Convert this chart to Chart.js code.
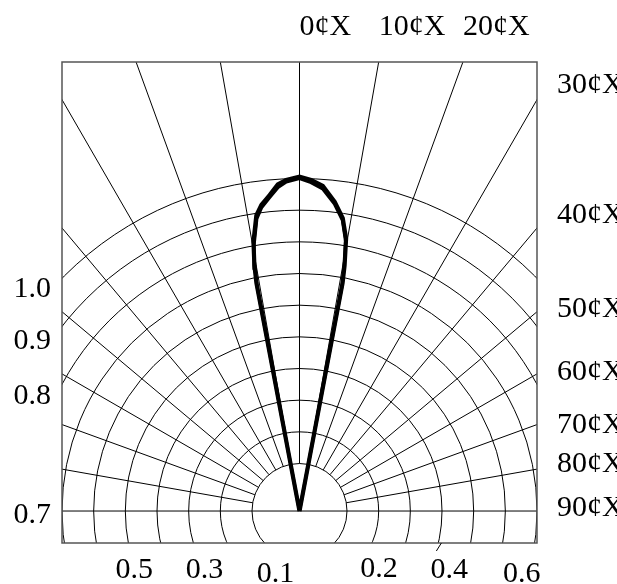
<!DOCTYPE html>
<html><head><meta charset="utf-8">
<script src="https://cdn.jsdelivr.net/npm/chart.js@4/dist/chart.umd.min.js"></script>
<style>html,body{margin:0;padding:0;background:#fff;}#wrap{width:617px;height:584px;position:relative;}</style>
</head><body><div id="wrap"><canvas id="c" width="617" height="584"></canvas></div>
<script>
// ---- grid values ----
const ringValues = [0.1, 0.2, 0.3, 0.4, 0.5, 0.6, 0.7, 0.8, 0.9, 1.0];
const ringRadius = [0.15, 0.25, 0.35, 0.45, 0.55, 0.65, 0.75, 0.85, 0.95, 1.05];
const spokeAngles = [-80, -70, -60, -50, -40, -30, -20, -10, 0, 10, 20, 30, 40, 50, 60, 70, 80];
const angleTickValues = [0, 10, 20, 30, 40, 50, 60, 70, 80, 90];
const angleTickLabels = ['0¢X', '10¢X', '20¢X', '30¢X', '40¢X', '50¢X', '60¢X', '70¢X', '80¢X', '90¢X'];
const leftRingLabels = ['1.0', '0.9', '0.8', '0.7'];
const bottomRingLabels = ['0.1', '0.2', '0.3', '0.4', '0.5', '0.6'];
// ---- lobe (angle in degrees, radius in ring units) ----
const lobeAngles  = [-11, -10.7, -10.4, -9.7, -8.3, -7.1, -5.4, -3.8, -2.3, 0, 2, 4.1, 6.5, 8.4, 9.7, 10.4, 10.7, 11];
const lobeRadiusA = [0, 0.733, 0.789, 0.863, 0.944, 0.974, 1.002, 1.034, 1.046, 1.056, 1.046, 1.029, 0.983, 0.935, 0.873, 0.789, 0.733, 0];
const lobeRadiusB = [0, 0.722, 0.780, 0.852, 0.933, 0.966, 0.995, 1.024, 1.040, 1.050, 1.038, 1.020, 0.976, 0.928, 0.864, 0.781, 0.724, 0];

function toXY(angles, radii) {
  return angles.map((a, i) => {
    const t = a * Math.PI / 180;
    return { x: radii[i] * Math.sin(t), y: radii[i] * Math.cos(t) };
  });
}

const FONT = '30px "Liberation Serif", "Times New Roman", serif';

const polarGrid = {
  id: 'polarGrid',
  beforeDatasetsDraw(chart) {
    const { ctx, chartArea: a, scales: { x, y } } = chart;
    const cx = x.getPixelForValue(0), cy = y.getPixelForValue(0);
    const k = x.getPixelForValue(1) - cx;
    ctx.save();
    ctx.beginPath();
    ctx.rect(a.left, a.top, a.right - a.left, a.bottom - a.top);
    ctx.clip();
    ctx.strokeStyle = '#000';
    ctx.lineWidth = 1;
    ringRadius.forEach(r => {
      ctx.beginPath();
      ctx.arc(cx, cy, r * k, 0, Math.PI * 2);
      ctx.stroke();
    });
    const r0 = ringRadius[0] * k, r1 = 4 * k;
    spokeAngles.forEach(d => {
      const t = d * Math.PI / 180;
      ctx.beginPath();
      ctx.moveTo(cx + r0 * Math.sin(t), cy - r0 * Math.cos(t));
      ctx.lineTo(cx + r1 * Math.sin(t), cy - r1 * Math.cos(t));
      ctx.stroke();
    });
    ctx.beginPath();
    ctx.moveTo(a.left, cy);
    ctx.lineTo(a.right, cy);
    ctx.stroke();
    ctx.restore();
  },
  afterDraw(chart) {
    const { ctx, chartArea: a, scales: { x, y } } = chart;
    const cx = x.getPixelForValue(0), cy = y.getPixelForValue(0);
    const k = x.getPixelForValue(1) - cx;
    ctx.save();
    // frame
    ctx.strokeStyle = '#555';
    ctx.lineWidth = 1.5;
    ctx.strokeRect(a.left, a.top, a.right - a.left, a.bottom - a.top);
    ctx.fillStyle = '#000';
    ctx.font = FONT;
    ctx.textBaseline = 'alphabetic';
    // angle labels
    const rightNudge = [-7, -5, 5, 6, 8, 3, 5];
    angleTickValues.forEach((d, i) => {
      const t = d * Math.PI / 180;
      ctx.textAlign = 'left';
      if (d < 30) {
        ctx.fillText(angleTickLabels[i], cx + (cy - a.top) * Math.tan(t), a.top - 27);
      } else {
        const yh = d === 90 ? cy : cy - (a.right - cx) / Math.tan(t);
        ctx.fillText(angleTickLabels[i], a.right + 20, yh + rightNudge[i - 3]);
      }
    });
    // left ring labels (rings 1.0 .. 0.7 at left edge)
    const leftNudge = [19, 23, 20, 12];
    ctx.textAlign = 'right';
    leftRingLabels.forEach((lab, i) => {
      const idx = ringValues.findIndex(v => v.toFixed(1) === lab);
      const R = ringRadius[idx] * k;
      const dx = cx - a.left;
      const yh = cy - Math.sqrt(Math.max(0, R * R - dx * dx));
      ctx.fillText(lab, a.left - 11, yh + leftNudge[i]);
    });
    // bottom ring labels
    const bx = [11, 7, 11, 11, 6, 19];
    const by = [39, 34, 35, 35, 35, 39];
    ctx.textAlign = 'center';
    bottomRingLabels.forEach((lab, i) => {
      const idx = ringValues.findIndex(v => v.toFixed(1) === lab);
      const R = ringRadius[idx] * k;
      const dy = a.bottom - cy;
      const dx = Math.sqrt(Math.max(0, R * R - dy * dy));
      const side = (i % 2 === 0) ? -1 : 1;
      const xc = cx + side * dx;
      ctx.fillText(lab, xc + bx[i], a.bottom + by[i]);
      if (lab === '0.4') {
        ctx.strokeStyle = '#000';
        ctx.lineWidth = 1;
        ctx.beginPath();
        ctx.moveTo(xc + 3, a.bottom);
        ctx.lineTo(xc - 2, a.bottom + 8);
        ctx.stroke();
      }
    });
    ctx.restore();
  }
};

new Chart(document.getElementById('c'), {
  type: 'scatter',
  data: {
    datasets: [
      { data: toXY(lobeAngles, lobeRadiusA), showLine: true, borderColor: '#000', borderWidth: 4.2, pointRadius: 0, tension: 0, fill: false },
      { data: toXY(lobeAngles, lobeRadiusB), showLine: true, borderColor: '#000', borderWidth: 3.2, pointRadius: 0, tension: 0, fill: false }
    ]
  },
  options: {
    responsive: false,
    animation: false,
    events: [],
    layout: { padding: { left: 62, right: 80, top: 62, bottom: 41 } },
    plugins: { legend: { display: false }, tooltip: { enabled: false } },
    scales: {
      x: { type: 'linear', display: false, min: -0.75, max: 0.75 },
      y: { type: 'linear', display: false, min: -0.101, max: 1.418 }
    }
  },
  plugins: [polarGrid]
});
</script></body></html>
